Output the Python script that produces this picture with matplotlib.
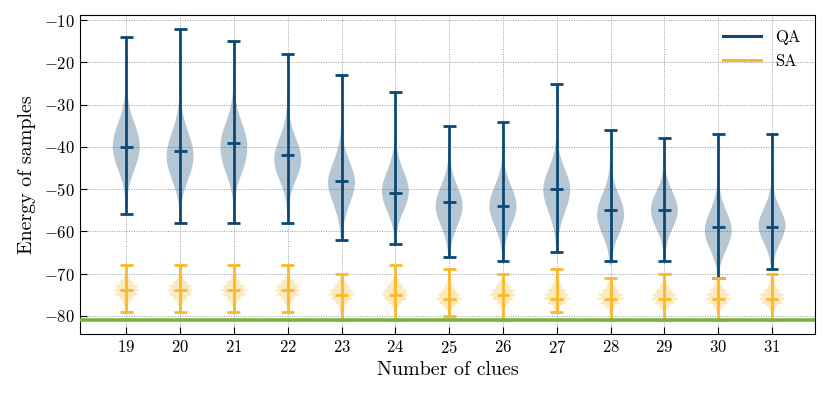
import numpy as np
import matplotlib
matplotlib.use("Agg")
import matplotlib.pyplot as plt
from matplotlib.lines import Line2D

plt.rcParams["font.family"] = "serif"
plt.rcParams["font.serif"] = ["cmr10"]
plt.rcParams["mathtext.fontset"] = "cm"
plt.rcParams["axes.formatter.use_mathtext"] = True

clues = [19, 20, 21, 22, 23, 24, 25, 26, 27, 28, 29, 30, 31]

# QA summary
qa_max = [-14, -12, -15, -18, -23, -27, -35, -34, -25, -36, -38, -37, -37]
qa_med = [-40, -41, -39, -42, -48, -51, -53, -54, -50, -55, -55, -59, -59]
qa_min = [-56, -58, -58, -58, -62, -63, -66, -67, -65, -67, -67, -71, -69]

# SA summary
sa_max = [-68, -68, -68, -68, -70, -68, -69, -70, -69, -71, -70, -71, -70]
sa_med = [-74, -74, -74, -74, -75, -75, -76, -75, -76, -76, -76, -76, -76]
sa_min = [-79, -79, -79, -79, -81, -81, -80, -81, -79, -81, -81, -81, -81]

ground_energy = -81

# QA body histograms: counts at energies qa_top, qa_top-2, qa_top-4, ...
qa_top = [-26, -28, -26, -30, -36, -40, -42, -42, -38, -44, -44, -48, -48]
qa_counts = [
    [1, 3, 5, 9, 16, 23, 28, 30, 28, 22, 15, 8, 4, 2, 1],
    [1, 3, 5, 9, 15, 22, 27, 30, 28, 23, 16, 9, 4, 2, 1],
    [1, 3, 5, 9, 16, 23, 28, 30, 28, 24, 18, 10, 5, 2, 1],
    [1, 3, 5, 10, 17, 24, 29, 29, 24, 16, 9, 4, 2, 1],
    [1, 3, 6, 11, 18, 26, 30, 28, 22, 15, 9, 5, 2, 1],
    [3, 6, 11, 18, 26, 30, 29, 22, 14, 7, 3, 1],
    [1, 3, 6, 12, 20, 27, 30, 27, 20, 12, 6, 3, 1],
    [1, 3, 6, 12, 20, 27, 30, 27, 20, 12, 6, 3, 1],
    [1, 3, 6, 12, 20, 27, 30, 28, 22, 15, 9, 5, 2, 1],
    [1, 3, 6, 12, 20, 27, 30, 27, 20, 12, 6, 3, 1],
    [1, 3, 7, 14, 24, 30, 30, 24, 14, 7, 3, 1],
    [1, 3, 6, 12, 20, 27, 30, 26, 18, 10, 4, 1],
    [1, 3, 7, 14, 23, 30, 28, 20, 11, 5, 2],
]

# SA body histograms: counts at integer energies from sa_max downwards
sa_counts = [
    [1, 1, 3, 8, 18, 30, 34, 30, 18, 8, 3, 1],
    [1, 1, 3, 8, 18, 30, 34, 30, 18, 8, 3, 1],
    [1, 1, 3, 8, 18, 30, 34, 30, 18, 8, 3, 1],
    [1, 1, 3, 8, 18, 30, 34, 30, 18, 8, 3, 1],
    [1, 4, 10, 20, 30, 34, 28, 16, 7, 3, 1, 1],
    [1, 1, 2, 5, 11, 20, 30, 34, 28, 16, 7, 3, 1, 1],
    [1, 1, 3, 6, 12, 20, 30, 34, 26, 12, 4, 1],
    [1, 4, 10, 20, 30, 34, 28, 16, 7, 3, 1, 1],
    [1, 2, 4, 8, 15, 24, 32, 34, 24, 8, 2],
    [2, 5, 12, 22, 32, 34, 26, 12, 4, 2, 1],
    [1, 3, 6, 12, 22, 32, 34, 26, 12, 4, 2, 1],
    [2, 5, 12, 22, 32, 34, 26, 12, 4, 2, 1],
    [1, 3, 6, 12, 22, 32, 34, 26, 12, 4, 2, 1],
]

QA_COLOR = "#0c4873"
SA_COLOR = "#fbb82c"
GREEN = "#7cb23a"


def build_samples(tops, counts, step, lo, hi):
    out = []
    for top, cnt, a, b in zip(tops, counts, lo, hi):
        levels = top - step * np.arange(len(cnt))
        s = np.repeat(levels, cnt).astype(float)
        out.append(np.concatenate([s, [a, b]]))
    return out


qa_data = build_samples(qa_top, qa_counts, 2, qa_min, qa_max)
sa_data = build_samples(sa_max, sa_counts, 1, sa_min, sa_max)

fig = plt.figure(figsize=(8.3, 3.98), dpi=100)
ax = fig.add_axes([0.0964, 0.161, 0.8856, 0.802])

ax.grid(True, color="#9a9a9a", linestyle=(0, (1, 1.5)), linewidth=0.7)
ax.set_axisbelow(True)

x = np.array(clues)
cap = 0.12

for data, col, bw, vmin, vmed, vmax in [
    (qa_data, QA_COLOR, "scott", qa_min, qa_med, qa_max),
    (sa_data, SA_COLOR, 0.18, sa_min, sa_med, sa_max),
]:
    parts = ax.violinplot(data, positions=clues, widths=0.5, showextrema=False,
                          bw_method=bw)
    for b in parts["bodies"]:
        b.set_facecolor(col)
        b.set_edgecolor("none")
        b.set_alpha(0.3)
    ax.vlines(x, vmin, vmax, color=col, lw=2)
    ax.hlines(vmin, x - cap, x + cap, color=col, lw=2)
    ax.hlines(vmax, x - cap, x + cap, color=col, lw=2)
    ax.hlines(vmed, x - cap, x + cap, color=col, lw=2)

ax.axhline(ground_energy, color=GREEN, lw=2.6, zorder=5)

ax.set_xlim(18.14, 31.8)
ax.set_ylim(-84.3, -8.7)
ax.set_xticks(clues)
ax.set_yticks(np.arange(-80, -9, 10))
ax.tick_params(direction="in", length=5, labelsize=12, top=False, right=False)
ax.set_xlabel("Number of clues", fontsize=14.4)
ax.set_ylabel("Energy of samples", fontsize=14.4, labelpad=6)

handles = [Line2D([], [], color=QA_COLOR, lw=2.2), Line2D([], [], color=SA_COLOR, lw=2.2)]
ax.legend(handles, ["QA", "SA"], loc="upper right", frameon=False, fontsize=12,
          handlelength=2.3)

fig.savefig("out.png", dpi=100)
